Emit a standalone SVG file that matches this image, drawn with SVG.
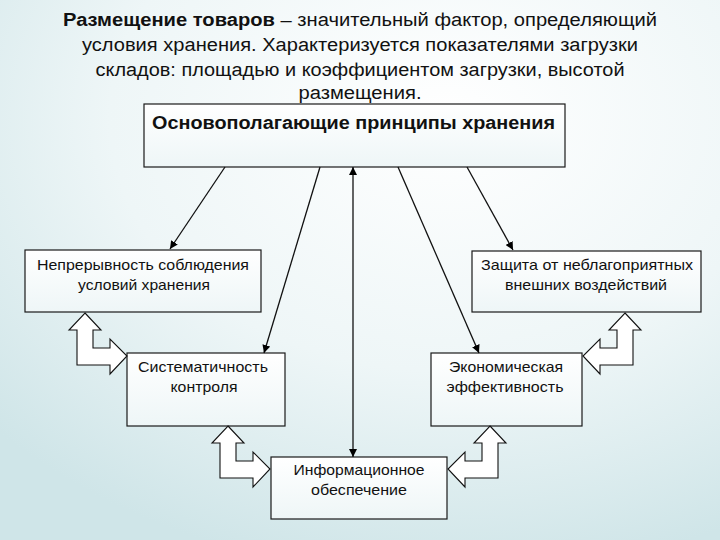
<svg xmlns="http://www.w3.org/2000/svg" width="720" height="540" viewBox="0 0 720 540">
<defs>
<radialGradient id="bg" cx="0.62" cy="0.22" r="0.85">
<stop offset="0" stop-color="#ffffff"/>
<stop offset="0.55" stop-color="#eef6f7"/>
<stop offset="1" stop-color="#cfe5e8"/>
</radialGradient>
<linearGradient id="boxfill" x1="0" y1="0" x2="0" y2="1">
<stop offset="0" stop-color="#ffffff"/>
<stop offset="1" stop-color="#eef6f7"/>
</linearGradient>
<marker id="ah" viewBox="0 0 10 10" refX="10" refY="5" markerWidth="8" markerHeight="8" markerUnits="userSpaceOnUse" orient="auto-start-reverse">
<path d="M0,0 L10,5 L0,10 z" fill="#000"/>
</marker>
<style>
.box{fill:url(#boxfill);stroke:#1a1a1a;stroke-width:1.2}
.t{font-family:"Liberation Sans",Arial,sans-serif;font-size:15px;fill:#111;text-anchor:middle}
.title{font-family:"Liberation Sans",Arial,sans-serif;font-size:18px;fill:#111;text-anchor:middle}
.conn{stroke:#111;stroke-width:1.3;fill:none}
.blk{fill:#ffffff;stroke:#111;stroke-width:1.1;stroke-linejoin:miter}
</style>
</defs>
<rect width="720" height="540" fill="url(#bg)"/>

<g id="title">
<text class="title" x="360" y="26" textLength="594" lengthAdjust="spacingAndGlyphs"><tspan font-weight="bold">Размещение товаров</tspan> – значительный фактор, определяющий</text>
<text class="title" x="360" y="51" textLength="556" lengthAdjust="spacingAndGlyphs">условия хранения. Характеризуется показателями загрузки</text>
<text class="title" x="360" y="76" textLength="529" lengthAdjust="spacingAndGlyphs">складов: площадью и коэффициентом загрузки, высотой</text>
<text class="title" x="360" y="99" textLength="123" lengthAdjust="spacingAndGlyphs">размещения.</text>
</g>

<g id="principles">
<rect class="box" x="144" y="104" width="421" height="63"/>
<text class="title" x="353.5" y="129" font-weight="bold" textLength="403" lengthAdjust="spacingAndGlyphs">Основополагающие принципы хранения</text>
</g>

<g id="continuity">
<rect class="box" x="25" y="250" width="236" height="62"/>
<text class="t" x="143" y="270" textLength="212" lengthAdjust="spacingAndGlyphs">Непрерывность соблюдения</text>
<text class="t" x="144" y="290" textLength="132" lengthAdjust="spacingAndGlyphs">условий хранения</text>
</g>

<g id="protection">
<rect class="box" x="472" y="251" width="229" height="61"/>
<text class="t" x="587" y="270" textLength="212" lengthAdjust="spacingAndGlyphs">Защита от неблагоприятных</text>
<text class="t" x="586" y="290" textLength="162" lengthAdjust="spacingAndGlyphs">внешних воздействий</text>
</g>

<g id="control">
<rect class="box" x="127" y="353" width="158" height="73"/>
<text class="t" x="203" y="372" textLength="130" lengthAdjust="spacingAndGlyphs">Систематичность</text>
<text class="t" x="204" y="392" textLength="67" lengthAdjust="spacingAndGlyphs">контроля</text>
</g>

<g id="economy">
<rect class="box" x="431" y="353" width="151" height="73"/>
<text class="t" x="506" y="372" textLength="114" lengthAdjust="spacingAndGlyphs">Экономическая</text>
<text class="t" x="505" y="392" textLength="117" lengthAdjust="spacingAndGlyphs">эффективность</text>
</g>

<g id="information">
<rect class="box" x="271" y="457" width="176" height="62"/>
<text class="t" x="359" y="475" textLength="131" lengthAdjust="spacingAndGlyphs">Информационное</text>
<text class="t" x="359" y="495" textLength="96" lengthAdjust="spacingAndGlyphs">обеспечение</text>
</g>

<g id="connectors">
<line class="conn" x1="225" y1="167" x2="170" y2="249" marker-end="url(#ah)"/>
<line class="conn" x1="320" y1="167" x2="264" y2="353" marker-end="url(#ah)"/>
<line class="conn" x1="353" y1="167" x2="353" y2="457" marker-start="url(#ah)" marker-end="url(#ah)"/>
<line class="conn" x1="398" y1="167" x2="479" y2="353" marker-end="url(#ah)"/>
<line class="conn" x1="467" y1="167" x2="513" y2="250" marker-end="url(#ah)"/>
<polygon class="blk" points="85,313 101,330 93,330 93,348 110,348 110,339 127,356 110,374 110,365 77,365 77,330 69,330"/>
<polygon class="blk" points="228,426 244,443 236,443 236,461 253,461 253,452 270,469 253,487 253,478 220,478 220,443 212,443"/>
<polygon class="blk" points="625,313 641,330 633,330 633,365 600,365 600,374 583,356 600,339 600,348 617,348 617,330 609,330"/>
<polygon class="blk" points="490,426 506,443 498,443 498,478 465,478 465,487 448,469 465,452 465,461 482,461 482,443 474,443"/>
</g>
</svg>
